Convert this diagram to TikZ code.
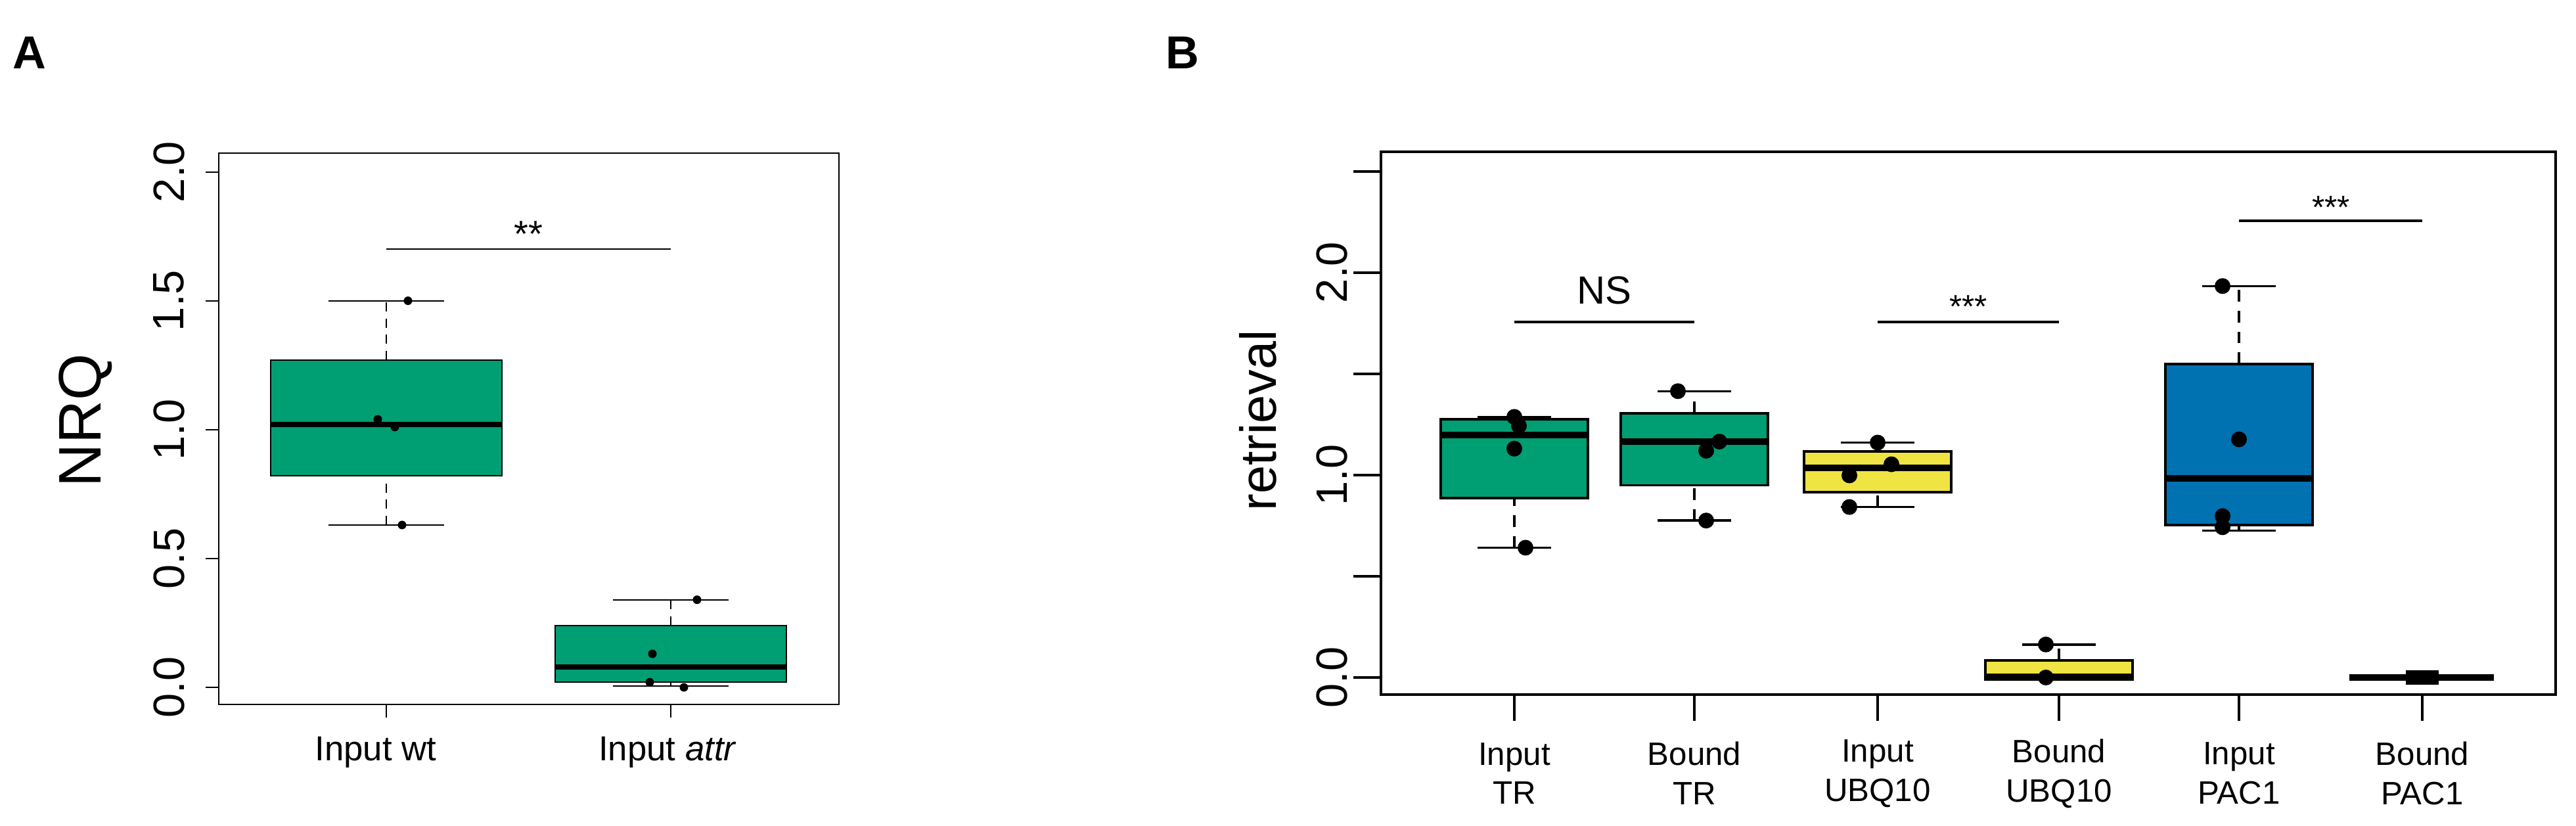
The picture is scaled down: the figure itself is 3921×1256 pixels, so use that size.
\documentclass[tikz,border=0pt]{standalone}
\usepackage{fontspec}
\setmainfont{Liberation Sans}
\usetikzlibrary{positioning}
\definecolor{grn}{HTML}{009E73}
\definecolor{ylw}{HTML}{F0E442}
\definecolor{blu}{HTML}{0072B2}
\tikzset{
frame/.style = {draw, line width=0.6pt},
tick/.style = {line width=0.6pt},
boxA/.style = {draw, line width=0.6pt},
medA/.style = {line width=2.2pt},
whA/.style = {line width=0.6pt, dash pattern=on 4pt off 3pt},
capA/.style = {line width=0.6pt},
ptA/.style = {fill, circle, inner sep=0pt, minimum size=0.13cm},
boxB/.style = {draw, line width=1pt},
medB/.style = {line width=2.8pt},
whB/.style = {line width=1pt, dash pattern=on 5pt off 4pt},
capB/.style = {line width=1pt},
ptB/.style = {fill, circle, inner sep=0pt, minimum size=0.24cm},
sig/.style = {line width=0.6pt},
sigB/.style = {line width=1pt},
lab/.style = {font=\fontsize{19}{22}\selectfont, rotate=90},
}
% x, half width, low, q1, median, q3, high, colour, style suffix
\newcommand{\boxwhisk}[9]{%
  \draw[whisk#9] (#1,#2) -- (#1,#3) (#1,#5) -- (#1,#6);
  \draw[capstyle#9] (#1-#7*0.5,#2) -- (#1+#7*0.5,#2) (#1-#7*0.5,#6) -- (#1+#7*0.5,#6);
  \draw[box#9, fill=#8] (#1-#7,#3) rectangle (#1+#7,#5);
  \draw[med#9] (#1-#7,#4) -- (#1+#7,#4);
}
\tikzset{whiskA/.style={whA}, whiskB/.style={whB}, capstyleA/.style={capA}, capstyleB/.style={capB}}

\begin{document}
\begin{tikzpicture}[x=0.01cm, y=-0.01cm]
\useasboundingbox (0,0) rectangle (3921,1256);

\node[font=\fontsize{20}{24}\selectfont\bfseries] (labA) at (45,80) {A};
\node[font=\fontsize{20}{24}\selectfont\bfseries] (labB) at (1800,80) {B};

% panel A
\draw[frame] (333,233) rectangle (1277,1072);
\node[font=\fontsize{26}{30}\selectfont, rotate=90] (nrq) at (130,640) {NRQ};
\begin{scope}[shift={(0,1046)}, y=3.92cm]
  \foreach \v in {0.0,0.5,1.0,1.5,2.0} {
    \draw[tick] (313,\v) -- (333,\v);
    \node[lab] (tA\v) at (257,\v) {\v};
  }
  \boxwhisk{588}{0.63}{0.82}{1.02}{1.27}{1.50}{176}{grn}{A}
  \boxwhisk{1021}{0.005}{0.02}{0.08}{0.24}{0.34}{176}{grn}{A}
  \foreach \x/\v in {621/1.50, 575/1.04, 601/1.01, 612/0.63, 1061/0.34, 993/0.13, 989/0.02, 1041/0.0}
    \node[ptA] at (\x,\v) {};
  \draw[sig] (588,1.70) -- (1021,1.70);
  \node[font=\fontsize{16}{18}\selectfont] (starA) at (804,1.76) {**};
\end{scope}
\foreach \x in {588,1021} \draw[tick] (\x,1072) -- (\x,1092);
\node[font=\fontsize{15}{18}\selectfont] (xA1) at (572,1145) {Input wt};
\node[font=\fontsize{15}{18}\selectfont] (xA2) at (1016,1145) {Input \textit{attr}};

% panel B
\draw[frame, line width=1.1pt] (2102,231) rectangle (3890,1057);
\node[font=\fontsize{22}{26}\selectfont, rotate=90] (ret) at (1915,640) {retrieval};
\begin{scope}[shift={(0,1031)}, y=3.08cm]
  \foreach \v in {0.0,0.5,...,2.5} \draw[line width=1.1pt] (2060,\v) -- (2102,\v);
  \foreach \v in {0.0,1.0,2.0} \node[lab] (tB\v) at (2027,\v) {\v};
  \boxwhisk{2305}{0.641}{0.886}{1.198}{1.276}{1.287}{112}{grn}{B}
  \boxwhisk{2579}{0.775}{0.949}{1.165}{1.305}{1.414}{112}{grn}{B}
  \boxwhisk{2858}{0.842}{0.915}{1.036}{1.116}{1.160}{112}{ylw}{B}
  \boxwhisk{3134}{0.0}{-0.01}{0.005}{0.085}{0.163}{112}{ylw}{B}
  \boxwhisk{3408}{0.726}{0.753}{0.982}{1.548}{1.933}{112}{blu}{B}
  \draw[line width=3pt] (3576,0) -- (3796,0);
  \foreach \x/\v in {2305/1.287, 2312/1.243, 2305/1.13, 2322/0.641, 2554/1.414, 2617/1.165, 2597/1.12, 2597/0.775,
    2858/1.16, 2879/1.053, 2815/0.998, 2815/0.842, 3114/0.163, 3114/0.0, 3383/1.933, 3408/1.176, 3383/0.797, 3383/0.742}
    \node[ptB] at (\x,\v) {};
  \node[fill, rectangle, minimum width=0.5cm, minimum height=0.22cm, inner sep=0pt] (pac0) at (3687,0) {};
  \draw[sigB] (2305,1.755) -- (2579,1.755);
  \draw[sigB] (2858,1.755) -- (3134,1.755);
  \draw[sigB] (3408,2.256) -- (3687,2.256);
  \node[font=\fontsize{17}{20}\selectfont] (ns) at (2442,1.91) {NS};
  \node[font=\fontsize{14}{16}\selectfont] (st1) at (2996,1.83) {***};
  \node[font=\fontsize{14}{16}\selectfont] (st2) at (3548,2.32) {***};
\end{scope}
\foreach \x/\a/\b [count=\i] in {2305/Input/TR, 2579/Bound/TR, 2858/Input/UBQ10, 3134/Bound/UBQ10, 3408/Input/PAC1, 3687/Bound/PAC1} {
  \draw[line width=1.1pt] (\x,1057) -- (\x,1097);
  \node[font=\fontsize{14}{17}\selectfont, align=center] (xB\i) at (\x,1177) {\a\\\b};
}
\end{tikzpicture}
\end{document}
